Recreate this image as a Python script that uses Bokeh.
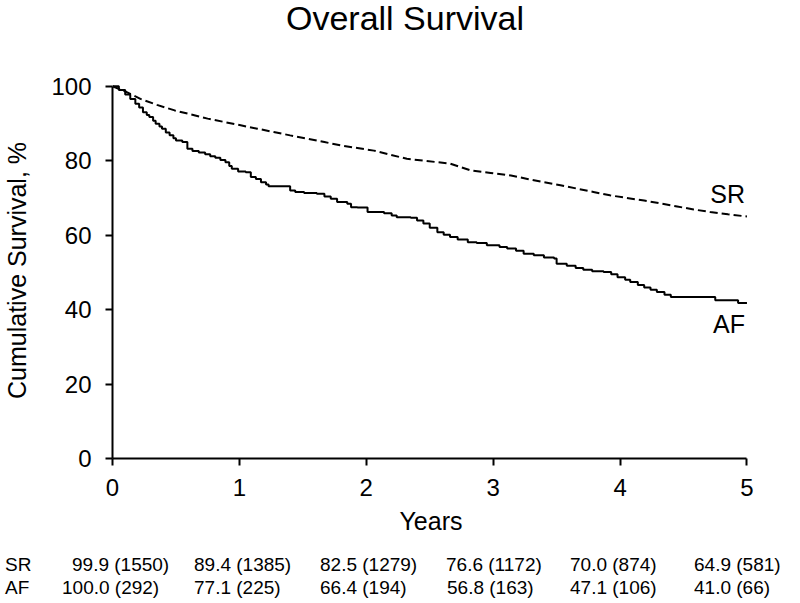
from bokeh.plotting import figure
from bokeh.models import Range1d, FixedTicker, Label, Div
from bokeh.layouts import column
from bokeh.embed import file_html
from bokeh.resources import INLINE

# ---------------- data ----------------
af_time = [0.00, 0.05, 0.10, 0.14, 0.18, 0.21, 0.24, 0.27, 0.29, 0.32,
           0.34, 0.37, 0.39, 0.42, 0.45, 0.48, 0.50, 0.55, 0.59, 0.63,
           0.68, 0.73, 0.77, 0.81, 0.85, 0.89, 0.92, 0.94, 0.99, 1.05,
           1.09, 1.13, 1.17, 1.21, 1.23, 1.40, 1.44, 1.51, 1.61, 1.67,
           1.72, 1.77, 1.85, 1.88, 1.93, 2.01, 2.14, 2.20, 2.24, 2.35,
           2.40, 2.45, 2.50, 2.56, 2.61, 2.66, 2.72, 2.80, 2.87, 2.95,
           3.05, 3.11, 3.18, 3.24, 3.32, 3.40, 3.48, 3.50, 3.58, 3.65,
           3.71, 3.78, 3.87, 3.93, 3.98, 4.04, 4.08, 4.14, 4.19, 4.24,
           4.29, 4.35, 4.40, 4.75, 4.93, 5.00]
af_surv = [100.0, 99.0, 97.8, 96.6, 95.3, 94.3, 93.0, 92.3, 91.7, 90.7,
           89.9, 89.2, 88.6, 87.6, 86.8, 86.0, 85.4, 85.0, 83.2, 82.6,
           82.2, 81.7, 81.2, 80.8, 80.2, 79.6, 78.6, 77.8, 77.1, 76.9,
           75.6, 75.1, 74.2, 73.6, 73.1, 72.0, 71.6, 71.3, 71.1, 70.4,
           69.8, 68.9, 68.4, 67.5, 67.4, 66.2, 65.9, 65.3, 64.8, 64.7,
           63.9, 63.1, 62.0, 60.8, 60.1, 59.5, 58.8, 58.1, 57.9, 57.3,
           56.8, 56.4, 55.8, 55.0, 54.6, 54.0, 53.7, 52.3, 51.8, 51.2,
           50.7, 50.3, 50.1, 49.5, 48.7, 48.0, 47.4, 46.6, 45.9, 45.3,
           44.7, 44.0, 43.4, 42.5, 41.8, 41.8]

sr_time = [0.00, 0.10, 0.22, 0.35, 0.49, 0.62, 0.75, 0.88, 1.01, 1.14,
           1.27, 1.40, 1.54, 1.67, 1.80, 1.93, 2.06, 2.19, 2.32, 2.45,
           2.56, 2.66, 2.74, 2.82, 2.98, 3.14, 3.27, 3.40, 3.53, 3.66,
           3.79, 3.92, 4.05, 4.19, 4.32, 4.45, 4.58, 4.71, 4.85, 5.00]
sr_surv = [100.0, 98.6, 96.6, 95.0, 93.5, 92.4, 91.3, 90.4, 89.5, 88.6,
           87.7, 86.8, 85.9, 85.0, 84.1, 83.4, 82.7, 81.6, 80.5, 80.0,
           79.6, 79.2, 78.3, 77.4, 76.7, 76.0, 75.1, 74.2, 73.4, 72.5,
           71.6, 70.7, 70.0, 69.3, 68.5, 67.7, 66.9, 66.2, 65.6, 65.0]

year_ticks = [0, 1, 2, 3, 4, 5]
pct_ticks = [0, 20, 40, 60, 80, 100]

title_text = "Overall Survival"
row_labels = ["SR", "AF"]
sr_pct = [99.9, 89.4, 82.5, 76.6, 70.0, 64.9]
sr_n = [1550, 1385, 1279, 1172, 874, 581]
af_pct = [100.0, 77.1, 66.4, 56.8, 47.1, 41.0]
af_n = [292, 225, 194, 163, 106, 66]

# ---------------- layout constants (pixels) ----------------
FONT = "Liberation Sans"
W = 784
TITLE_H = 34
MAIN_H = 494
TAB_H = 58
B_LEFT, B_RIGHT, B_TOP, B_BOTTOM = 107, 35, 38, 80

title_center_x = 400
title_top = -4
sr_col_px = [67, 189, 315, 441, 565, 689]
af_col_px = [57, 189, 315, 442, 565, 689]
row_label_px = 0
row_top_px = [12, 35]

# ---------------- title ----------------
title_html = (
    f'<div style="position:relative;width:{W}px;height:{TITLE_H}px;">'
    f'<span style="position:absolute;left:{title_center_x}px;top:{title_top}px;'
    f'transform:translateX(-50%);white-space:nowrap;font-family:\'{FONT}\';'
    f'font-size:34px;line-height:34px;color:#000;">{title_text}</span></div>'
)
title_div = Div(text=title_html, width=W, height=TITLE_H)

# ---------------- main plot ----------------
p = figure(width=W, height=MAIN_H, output_backend="svg", toolbar_location=None,
           x_range=Range1d(0, 5.02), y_range=Range1d(0, 101),
           min_border_left=B_LEFT, min_border_right=B_RIGHT,
           min_border_top=B_TOP, min_border_bottom=B_BOTTOM)
p.outline_line_color = None
p.xgrid.visible = False
p.ygrid.visible = False
p.background_fill_color = "white"
p.border_fill_color = "white"

for ax in (p.xaxis[0], p.yaxis[0]):
    ax.axis_line_width = 2
    ax.axis_line_color = "black"
    ax.major_tick_line_width = 2
    ax.major_tick_line_color = "black"
    ax.major_tick_out = 7
    ax.major_tick_in = 0
    ax.minor_tick_out = 0
    ax.minor_tick_in = 0
    ax.major_label_text_font = FONT
    ax.major_label_text_font_size = "24px"
    ax.major_label_text_color = "black"
    ax.axis_label_text_font = FONT
    ax.axis_label_text_font_size = "25px"
    ax.axis_label_text_font_style = "normal"
    ax.axis_label_text_color = "black"

p.xaxis.ticker = FixedTicker(ticks=year_ticks)
p.yaxis.ticker = FixedTicker(ticks=pct_ticks)
p.xaxis.bounds = (year_ticks[0], year_ticks[-1])
p.yaxis.bounds = (pct_ticks[0], pct_ticks[-1])
p.xaxis.axis_label = "Years"
p.yaxis.axis_label = "Cumulative Survival, %"
p.xaxis.major_label_standoff = 13
p.xaxis.axis_label_standoff = 8
p.yaxis.major_label_standoff = 14
p.yaxis.axis_label_standoff = 17

p.step(af_time, af_surv, mode="after", line_color="black", line_width=2)
p.line(sr_time, sr_surv, line_color="black", line_width=2, line_dash="8 4")

p.add_layout(Label(x=sr_time[-1], y=sr_surv[-1], text=row_labels[0], x_offset=-2, y_offset=23,
                   text_align="right", text_baseline="middle", text_font=FONT,
                   text_font_size="25px", text_color="black"))
p.add_layout(Label(x=af_time[-1], y=af_surv[-1], text=row_labels[1], x_offset=-2, y_offset=-21,
                   text_align="right", text_baseline="middle", text_font=FONT,
                   text_font_size="25px", text_color="black"))

# ---------------- number-at-risk table ----------------
def span(x, y, txt):
    return (f'<span style="position:absolute;left:{x}px;top:{y}px;white-space:nowrap;'
            f'font-family:\'{FONT}\';font-size:19px;line-height:19px;color:#000;">{txt}</span>')


cells = []
for i, lab in enumerate(row_labels):
    cells.append(span(row_label_px, row_top_px[i], lab))
for j in range(len(sr_pct)):
    cells.append(span(sr_col_px[j], row_top_px[0], f"{sr_pct[j]:.1f} ({sr_n[j]})"))
    cells.append(span(af_col_px[j], row_top_px[1], f"{af_pct[j]:.1f} ({af_n[j]})"))

table_html = (f'<div style="position:relative;width:{W}px;height:{TAB_H}px;">'
              + "".join(cells) + '</div>')
table_div = Div(text=table_html, width=W, height=TAB_H)

layout = column(title_div, p, table_div, spacing=0)
open("out.html", "w").write(file_html(layout, INLINE))
